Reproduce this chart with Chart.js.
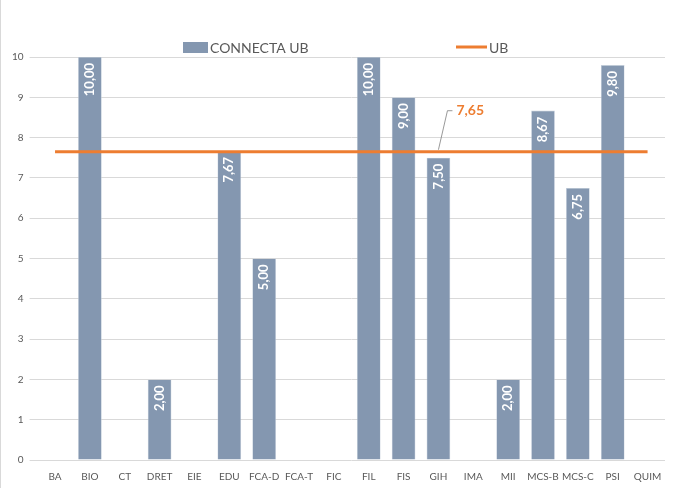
<!DOCTYPE html>
<html>
<head>
<meta charset="utf-8">
<script src="https://cdn.jsdelivr.net/npm/chart.js@4"></script>
<style>
  html, body { margin: 0; padding: 0; background: #fff; }
  #wrap { width: 674px; height: 488px; box-sizing: border-box; border-left: 1px solid #d9d9d9; }
  canvas { display: block; }
</style>
</head>
<body>
<div id="wrap"><canvas id="chart" width="673" height="488"></canvas></div>
<script>
const categories = ["BA", "BIO", "CT", "DRET", "EIE", "EDU", "FCA-D", "FCA-T", "FIC", "FIL", "FIS", "GIH", "IMA", "MII", "MCS-B", "MCS-C", "PSI", "QUIM"];
const connectaValues = [null, 10, null, 2, null, 7.67, 5, null, null, 10, 9, 7.5, null, 2, 8.67, 6.75, 9.8, null];
const ubValue = 7.65;
const ubValues = categories.map(() => ubValue);
const ubLabelIndex = 11;
const seriesNames = ["CONNECTA UB", "UB"];

const barColor = "#8497b0";
const orange = "#ed7d31";
const textColor = "#595959";
const fontFamily = "Lato, 'Open Sans', sans-serif";

function fmt(v) {
  return v.toFixed(2).replace(".", ",");
}

// white rotated labels at the top of each bar, the UB callout and the legend
const barLabels = {
  id: 'barLabels',
  afterDatasetsDraw(chart) {
    const ctx = chart.ctx;
    const meta = chart.getDatasetMeta(0);
    ctx.save();
    ctx.fillStyle = "#ffffff";
    ctx.font = "bold 13px " + fontFamily;
    ctx.textAlign = "right";
    ctx.textBaseline = "middle";
    meta.data.forEach((bar, i) => {
      const v = connectaValues[i];
      if (v == null) return;
      ctx.save();
      ctx.translate(bar.x, bar.y + 6);
      ctx.rotate(-Math.PI / 2);
      ctx.fillText(fmt(v), 0, 0);
      ctx.restore();
    });

    const lineMeta = chart.getDatasetMeta(1);
    const p = lineMeta.data[ubLabelIndex];
    const x0 = p.x, y0 = p.y - 2;
    const x1 = p.x + 9, y1 = p.y - 41;
    ctx.strokeStyle = "#7f7f7f";
    ctx.lineWidth = 0.8;
    ctx.beginPath();
    ctx.moveTo(x0, y0);
    ctx.lineTo(x1, y1);
    ctx.lineTo(x1 + 5, y1);
    ctx.stroke();
    ctx.fillStyle = orange;
    ctx.font = "bold 14px " + fontFamily;
    ctx.textAlign = "left";
    ctx.fillText(fmt(ubValue), x1 + 9, y1);

    // legend
    const ly = 47;
    ctx.font = "14px " + fontFamily;
    ctx.fillStyle = barColor;
    ctx.fillRect(182, ly - 5, 25, 11);
    ctx.fillStyle = textColor;
    ctx.fillText(seriesNames[0], 209, ly + 1);
    ctx.strokeStyle = orange;
    ctx.lineWidth = 3;
    ctx.beginPath();
    ctx.moveTo(455, ly);
    ctx.lineTo(486, ly);
    ctx.stroke();
    ctx.fillText(seriesNames[1], 488, ly + 1);
    ctx.restore();
  }
};

const ctx = document.getElementById('chart').getContext('2d');
const chart = new Chart(ctx, {
  data: {
    labels: categories,
    datasets: [{
      type: 'bar',
      label: seriesNames[0],
      data: connectaValues,
      backgroundColor: barColor,
      borderColor: "#c5cfdc",
      borderWidth: 0.6,
      barPercentage: 0.68,
      categoryPercentage: 1,
      order: 2
    }, {
      type: 'line',
      label: seriesNames[1],
      data: ubValues,
      borderColor: orange,
      backgroundColor: orange,
      borderWidth: 3,
      pointRadius: 0,
      fill: false,
      order: 1
    }]
  },
  options: {
    animation: false,
    responsive: false,
    layout: { padding: { left: 5, right: 9, top: 57, bottom: 2 } },
    plugins: {
      tooltip: { enabled: false },
      legend: { display: false }
    },
    scales: {
      x: {
        grid: { display: false },
        border: { display: false },
        ticks: { color: textColor, font: { family: fontFamily, size: 10 }, maxRotation: 0, autoSkip: false, padding: 3 }
      },
      y: {
        min: 0,
        max: 10,
        ticks: { stepSize: 1, color: textColor, font: { family: fontFamily, size: 10 }, padding: 6 },
        grid: { color: "#d9d9d9", lineWidth: 1 },
        border: { display: false }
      }
    }
  },
  plugins: [barLabels]
});
</script>
</body>
</html>
